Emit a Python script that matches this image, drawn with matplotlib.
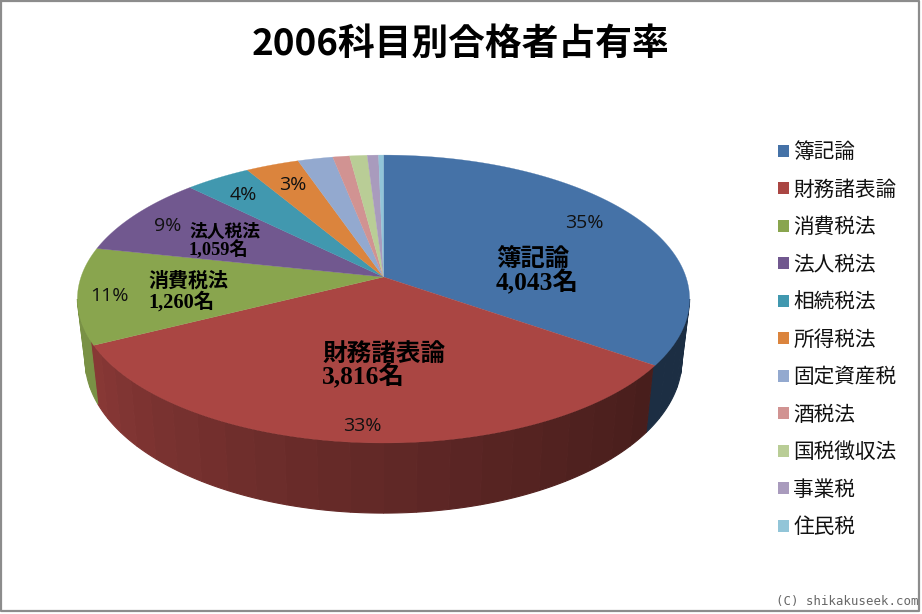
import numpy as np
import matplotlib
matplotlib.use('Agg')
import matplotlib.pyplot as plt
from matplotlib.colors import to_rgb
from matplotlib.patches import Patch

plt.rcParams['font.family'] = ['Noto Sans CJK JP', 'DejaVu Sans']

# data
subjects = ['簿記論', '財務諸表論', '消費税法', '法人税法', '相続税法', '所得税法',
            '固定資産税', '酒税法', '国税徴収法', '事業税', '住民税']
passers = [4043, 3816, 1260, 1059, 470, 380, 250, 120, 125, 80, 35]
colors = ['#4572a7', '#aa4643', '#89a54e', '#71588f', '#4198af', '#db843d',
          '#93a9cf', '#d19392', '#b9cd96', '#a99bbd', '#92c5d8']
pct_labels = ['35%', '33%', '11%', '9%', '4%', '3%']
pct_pos = [(584, 223), (362, 426), (109, 296), (168, 226), (243, 195), (293, 185)]
# name, count, left x, y of name, y of count, font sizes
callouts = [('簿記論', '4,043名', 496, 259, 283, 17.6, 18.4),
            ('財務諸表論', '3,816名', 322, 354, 377, 17.7, 18.4),
            ('消費税法', '1,260名', 148, 282, 302, 14.4, 14.7),
            ('法人税法', '1,059名', 189, 232, 250, 12.8, 13.2)]

# projection of the pie disc, picture is in pixels
W, H = 922, 614
CX, CY = 383.5, 277
RX, RY = 302.5, 140.6
K = 0.153
BOT_CY, BOT_RY, BOT_RX = 336, 150, 0.975 * RX


def top_face(th):
    u, v = np.sin(th), np.cos(th)
    w = 1 + K * v
    return CX + RX * u / w, CY - RY * v / w


def bottom_face(th):
    u, v = np.sin(th), np.cos(th)
    w = 1 + K * v
    return CX + BOT_RX * u / w, BOT_CY - BOT_RY * v / w


fig = plt.figure(figsize=(W / 100, H / 100), dpi=100, facecolor='white')
ax = fig.add_axes([0, 0, 1, 1])
ax.set_xlim(0, W)
ax.set_ylim(H, 0)
ax.axis('off')

edges = 2 * np.pi * np.concatenate([[0], np.cumsum(passers)]) / sum(passers)

# walls, clockwise from the top, only the part facing the viewer
wall_start = np.pi / 2 + np.arcsin(K)
wall_end = 2 * np.pi - wall_start
n_strips = 30
strip_edges = np.linspace(wall_start, wall_end, n_strips + 1)
for a, b in zip(strip_edges[:-1], strip_edges[1:]):
    mid = (a + b) / 2
    idx = np.searchsorted(edges, mid) - 1
    # darker toward the right hand side
    t = (mid - wall_start) / (wall_end - wall_start)
    shade = 0.37 + 0.5 * t ** 1.3
    if idx != 1:
        shade = 0.4 if idx == 0 else 0.88
    rgb = np.array(to_rgb(colors[idx])) * shade
    th = np.linspace(a, b, 8)
    xt, yt = top_face(th)
    xb, yb = bottom_face(th)
    ax.fill(np.r_[xt, xb[::-1]], np.r_[yt, yb[::-1]], facecolor=rgb, edgecolor=rgb, lw=0.8)

# top face
for i, c in enumerate(colors):
    th = np.linspace(edges[i], edges[i + 1], 80)
    x, y = top_face(th)
    ax.fill(np.r_[CX, x], np.r_[CY, y], color=c, lw=0.2)

for txt, (x, y) in zip(pct_labels, pct_pos):
    ax.text(x, y, txt, fontsize=14, ha='center', va='center', color='#111111',
            family=['Open Sans', 'DejaVu Sans'])

serif = ['Liberation Serif', 'Noto Sans CJK JP']
for name, num, x, y1, y2, fs1, fs2 in callouts:
    ax.text(x, y1, name, fontsize=fs1, ha='left', va='center',
            fontweight='bold', color='black', family=serif)
    ax.text(x, y2, num, fontsize=fs2, ha='left', va='center',
            fontweight='bold', color='black', family=serif)

ax.text(460, 44, '2006科目別合格者占有率', fontsize=26.5, fontweight='bold',
        ha='center', va='center', color='black')

handles = [Patch(facecolor=c, edgecolor='none') for c in colors]
ax.legend(handles, subjects, loc='upper left', bbox_to_anchor=(778 / W, 1 - 141 / H),
          frameon=False, fontsize=14.9, labelspacing=0.75, handlelength=0.53,
          handleheight=0.53, handletextpad=0.2, borderpad=0, borderaxespad=0,
          labelcolor='#111111')

ax.text(847, 601, '(C) shikakuseek.com', fontsize=8.9, ha='center', va='center',
        color='#666666', family='DejaVu Sans Mono')

# grey picture frame
ax.plot([0.5, 0.5, 919, 919, 0.5], [0.5, 611, 611, 0.5, 0.5], color='#8c8c8c',
        lw=1.6, clip_on=False)

fig.savefig('out.png', dpi=100)
